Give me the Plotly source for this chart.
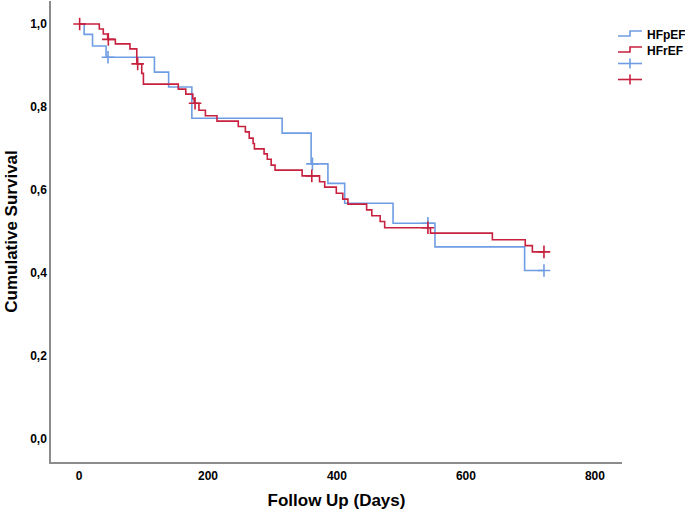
import plotly.graph_objects as go

# HFpEF (blue) Kaplan-Meier events
hfpef_event_days = [8, 21, 42, 117, 139, 175, 315, 360, 386, 412, 487, 552, 691]
hfpef_event_surv = [0.975, 0.947, 0.920, 0.884, 0.848, 0.773, 0.737, 0.663, 0.616, 0.568, 0.520, 0.463, 0.406]
hfpef_censor_days = [45, 362, 541, 721]

# HFrEF (red) Kaplan-Meier events
hfref_event_days = [31.5, 37.7, 44.5, 56.4, 79, 89.6, 97.3, 99.9, 154, 165.6, 176.5, 178.6, 186, 196,
                    214, 247, 258, 264, 270, 272, 287, 292, 298, 304, 346, 373, 381, 399, 409, 417,
                    446, 454, 467, 474, 545, 641, 692, 703]
hfref_event_surv = [0.988, 0.976, 0.963, 0.952, 0.940, 0.904, 0.881, 0.855, 0.843, 0.831, 0.820, 0.809,
                    0.792, 0.779, 0.766, 0.753, 0.740, 0.725, 0.712, 0.699, 0.687, 0.674, 0.660, 0.648,
                    0.634, 0.620, 0.607, 0.592, 0.578, 0.566, 0.552, 0.538, 0.524, 0.509, 0.496, 0.480,
                    0.466, 0.451]
hfref_censor_days = [1, 45.5, 91, 180, 361, 541, 721]

group_names = ["HFpEF", "HFrEF"]
x_ticks = [0, 200, 400, 600, 800]
y_ticks = [0.0, 0.2, 0.4, 0.6, 0.8, 1.0]

BLUE = "#6f9de3"
RED = "#c8203f"
FONT = "Liberation Sans"

W, H = 685, 512
ML, MR, MT, MB = 51, 63, 1, 50
PW, PH = W - ML - MR, H - MT - MB


def px_x(p):
    return (p - ML) / PW


def px_y(p):
    return (H - MB - p) / PH


def step_curve(days, surv, end_day):
    xs = [0] + list(days) + [end_day]
    ys = [1.0] + list(surv) + [surv[-1]]
    return xs, ys


def surv_at(days, surv, t):
    s = 1.0
    for d, v in zip(days, surv):
        if d <= t:
            s = v
    return s


fig = go.Figure()

groups = [
    (group_names[0], hfpef_event_days, hfpef_event_surv, hfpef_censor_days, BLUE),
    (group_names[1], hfref_event_days, hfref_event_surv, hfref_censor_days, RED),
]

for name, days, surv, cens, color in groups:
    xs, ys = step_curve(days, surv, max(cens))
    fig.add_trace(go.Scatter(x=xs, y=ys, mode="lines", line=dict(color=color, width=1.6, shape="hv"),
                             name=name, showlegend=False, hoverinfo="skip"))

for name, days, surv, cens, color in groups:
    cy = [surv_at(days, surv, t) for t in cens]
    fig.add_trace(go.Scatter(x=cens, y=cy, mode="markers",
                             marker=dict(symbol="cross-thin", size=9, line=dict(color=color, width=1.6)),
                             name=name + " censored", showlegend=False, hoverinfo="skip"))

# Legend (drawn as decoration in paper space, SPSS style)
shapes = []
annotations = []
for i, (name, days, surv, cens, color) in enumerate(groups):
    yl = 36 + 16 * i
    path = "M {:.4f} {:.4f} L {:.4f} {:.4f} L {:.4f} {:.4f} L {:.4f} {:.4f}".format(
        px_x(618), px_y(yl), px_x(630), px_y(yl), px_x(630), px_y(yl - 5), px_x(642), px_y(yl - 5))
    shapes.append(dict(type="path", xref="paper", yref="paper", path=path,
                       line=dict(color=color, width=1.6)))
    annotations.append(dict(xref="paper", yref="paper", x=px_x(645), y=px_y(yl - 1), text=name,
                            showarrow=False, xanchor="left", yanchor="middle",
                            font=dict(family=FONT, size=12, color="black", weight="bold")))
    yc = 63.5 + 16 * i
    shapes.append(dict(type="line", xref="paper", yref="paper", x0=px_x(618), x1=px_x(642),
                       y0=px_y(yc), y1=px_y(yc), line=dict(color=color, width=1.6)))
    shapes.append(dict(type="line", xref="paper", yref="paper", x0=px_x(630), x1=px_x(630),
                       y0=px_y(yc - 5), y1=px_y(yc + 5), line=dict(color=color, width=1.6)))

fig.update_layout(
    width=W, height=H,
    margin=dict(l=ML, r=MR, t=MT, b=MB),
    paper_bgcolor="white", plot_bgcolor="white",
    separators=",.",
    showlegend=False,
    font=dict(family=FONT, size=12, color="black"),
    shapes=shapes,
    annotations=annotations,
    xaxis=dict(range=[-43.4, 842], tickvals=x_ticks, ticks="", showgrid=False, zeroline=False,
               showline=True, linecolor="#8c8c8c", linewidth=1.5, automargin=False,
               tickfont=dict(family=FONT, size=12, weight="bold"), ticklabelstandoff=2,
               title=dict(text="Follow Up (Days)", font=dict(family=FONT, size=17, weight="bold"), standoff=12)),
    yaxis=dict(range=[-0.0554, 1.0554], tickvals=y_ticks, tickformat=".1f", ticks="", showgrid=False,
               zeroline=False, showline=True, linecolor="#8c8c8c", linewidth=1.5, automargin=False,
               tickfont=dict(family=FONT, size=12, weight="bold"), ticklabelstandoff=0,
               title=dict(text="Cumulative Survival", font=dict(family=FONT, size=17, weight="bold"), standoff=8)),
)

fig.write_html("out.html",
               config={"displayModeBar": False},
               post_script="document.body.style.margin='0';document.body.style.padding='0';")
